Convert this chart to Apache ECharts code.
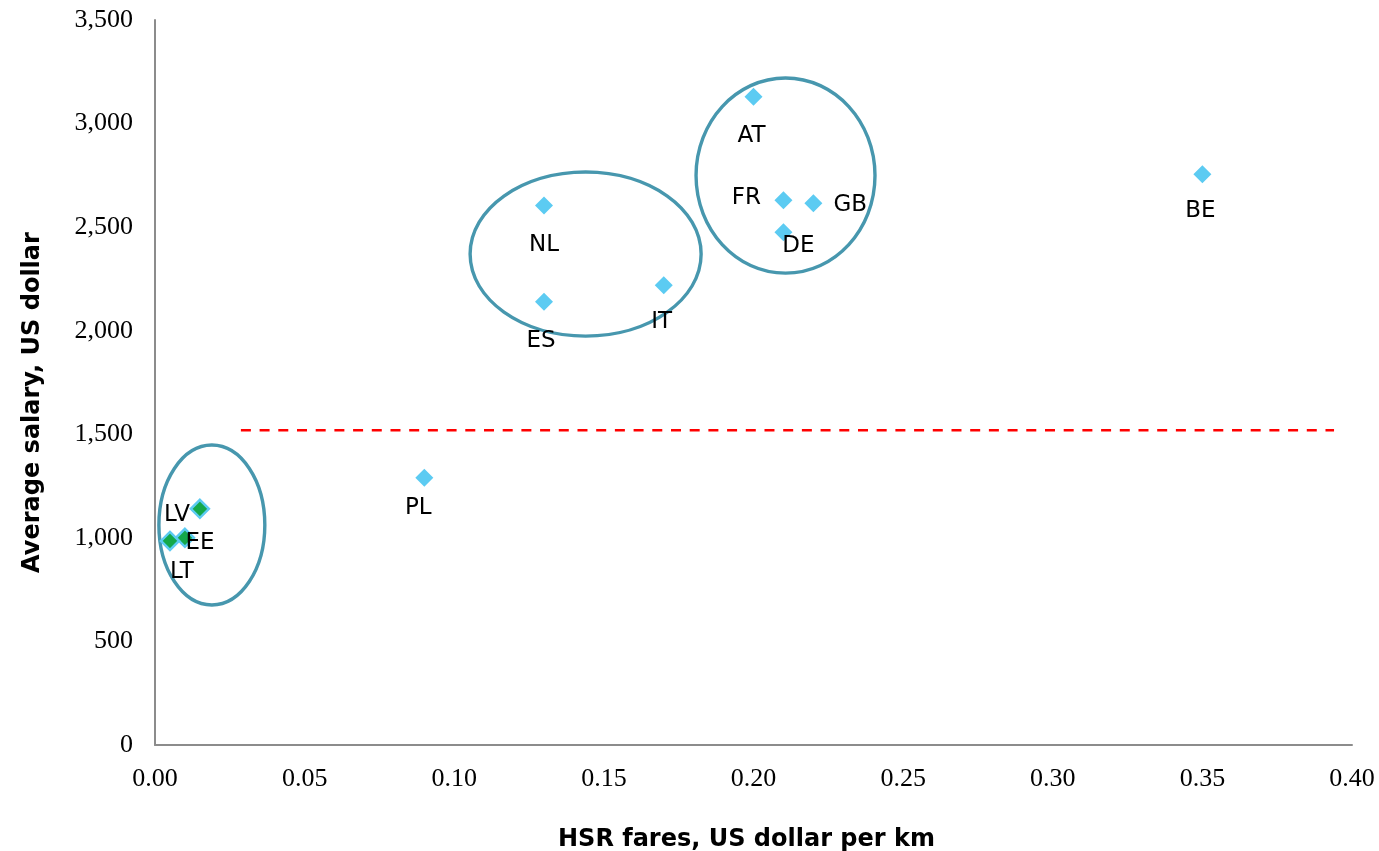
<!DOCTYPE html>
<html>
<head>
<meta charset="utf-8">
<script src="https://cdn.jsdelivr.net/npm/echarts@6/dist/echarts.min.js"></script>
<style>html,body{margin:0;padding:0;background:#fff}#c{width:1379px;height:851px}</style>
</head>
<body>
<div id="c"></div>
<script>
// Data
var countries = ['AT','FR','GB','DE','BE','NL','ES','IT','PL','LV','EE','LT'];
var fares     = [0.20, 0.21, 0.22, 0.21, 0.35, 0.13, 0.13, 0.17, 0.09, 0.015, 0.01, 0.005];
var salaries  = [3130, 2630, 2615, 2475, 2755, 2605, 2140, 2220, 1290, 1140, 1000, 985];
var lowGroup  = ['LV','EE','LT'];
var thresholdSalary = 1520;
var thresholdFares = [0.0287, 0.394];
// clusters: centre fare, centre salary, half-width (fare), half-height (salary)
var clusterCx = [0.019, 0.1439, 0.2107];
var clusterCy = [1062, 2370, 2749];
var clusterRx = [0.0177, 0.0386, 0.0299];
var clusterRy = [386, 396, 471];

var labelOffsets = {
  AT: [-2, 39], FR: [-37, -2], GB: [37, 2], DE: [15, 14], BE: [-2, 37],
  NL: [0, 40], ES: [-3, 39], IT: [-2, 37], PL: [-6, 30],
  LV: [-23, 6], EE: [15, 5], LT: [12, 31]
};

var pts = countries.map(function (c, i) {
  var low = lowGroup.indexOf(c) >= 0;
  return {
    name: c,
    value: [fares[i], salaries[i]],
    itemStyle: low ? { color: '#13A84A', borderColor: '#5CCBF2', borderWidth: 2.5, opacity: 1 } : { color: '#5CCBF2', opacity: 1 },
    label: { offset: labelOffsets[c] }
  };
});

var ellipses = clusterCx.map(function (x, i) { return [x, clusterCy[i], clusterRx[i], clusterRy[i]]; });

var chart = echarts.init(document.getElementById('c'));
chart.setOption({
  animation: false,
  grid: { left: 155, right: 27, top: 20, bottom: 106, containLabel: false, outerBoundsMode: 'none' },
  xAxis: {
    type: 'value', min: 0, max: 0.4, interval: 0.05,
    name: 'HSR fares, US dollar per km', nameLocation: 'middle', nameGap: 83,
    nameTextStyle: { fontFamily: 'DejaVu Sans', fontWeight: 'bold', fontSize: 24, color: '#000', padding: [0, 14, 0, 0] },
    axisLine: { show: true, lineStyle: { color: '#8c8c8c', width: 2 } },
    axisTick: { show: false },
    splitLine: { show: false },
    axisLabel: { fontFamily: 'Liberation Serif', fontSize: 26, color: '#000', margin: 21,
      formatter: function (v) { return v.toFixed(2); } }
  },
  yAxis: {
    type: 'value', min: 0, max: 3500, interval: 500,
    name: 'Average salary, US dollar', nameLocation: 'middle', nameGap: 110,
    nameTextStyle: { fontFamily: 'DejaVu Sans', fontWeight: 'bold', fontSize: 24, color: '#000', padding: [0, 40, 0, 0] },
    axisLine: { show: true, lineStyle: { color: '#8c8c8c', width: 2 } },
    axisTick: { show: false },
    splitLine: { show: false },
    axisLabel: { fontFamily: 'Liberation Serif', fontSize: 26, color: '#000', margin: 22,
      formatter: function (v) { return v.toLocaleString('en-US'); } }
  },
  series: [
    {
      type: 'line', symbol: 'none', silent: true,
      data: thresholdFares.map(function (f) { return [f, thresholdSalary]; }),
      lineStyle: { color: '#FF0000', width: 2.5, type: [10, 8.7] }
    },
    {
      type: 'custom', clip: false, silent: true,
      data: ellipses,
      renderItem: function (params, api) {
        var c = api.coord([api.value(0), api.value(1)]);
        var s = api.size([api.value(2), api.value(3)]);
        return { type: 'ellipse', shape: { cx: c[0], cy: c[1], rx: s[0], ry: s[1] },
          style: { fill: 'none', stroke: '#4797AE', lineWidth: 3.4 } };
      }
    },
    {
      type: 'scatter', symbol: 'diamond', symbolSize: 18,
      data: pts,
      label: { show: true, position: 'inside', formatter: '{b}',
        fontFamily: 'DejaVu Sans', fontSize: 23, color: '#000', textBorderWidth: 0 }
    }
  ]
});
</script>
</body>
</html>
